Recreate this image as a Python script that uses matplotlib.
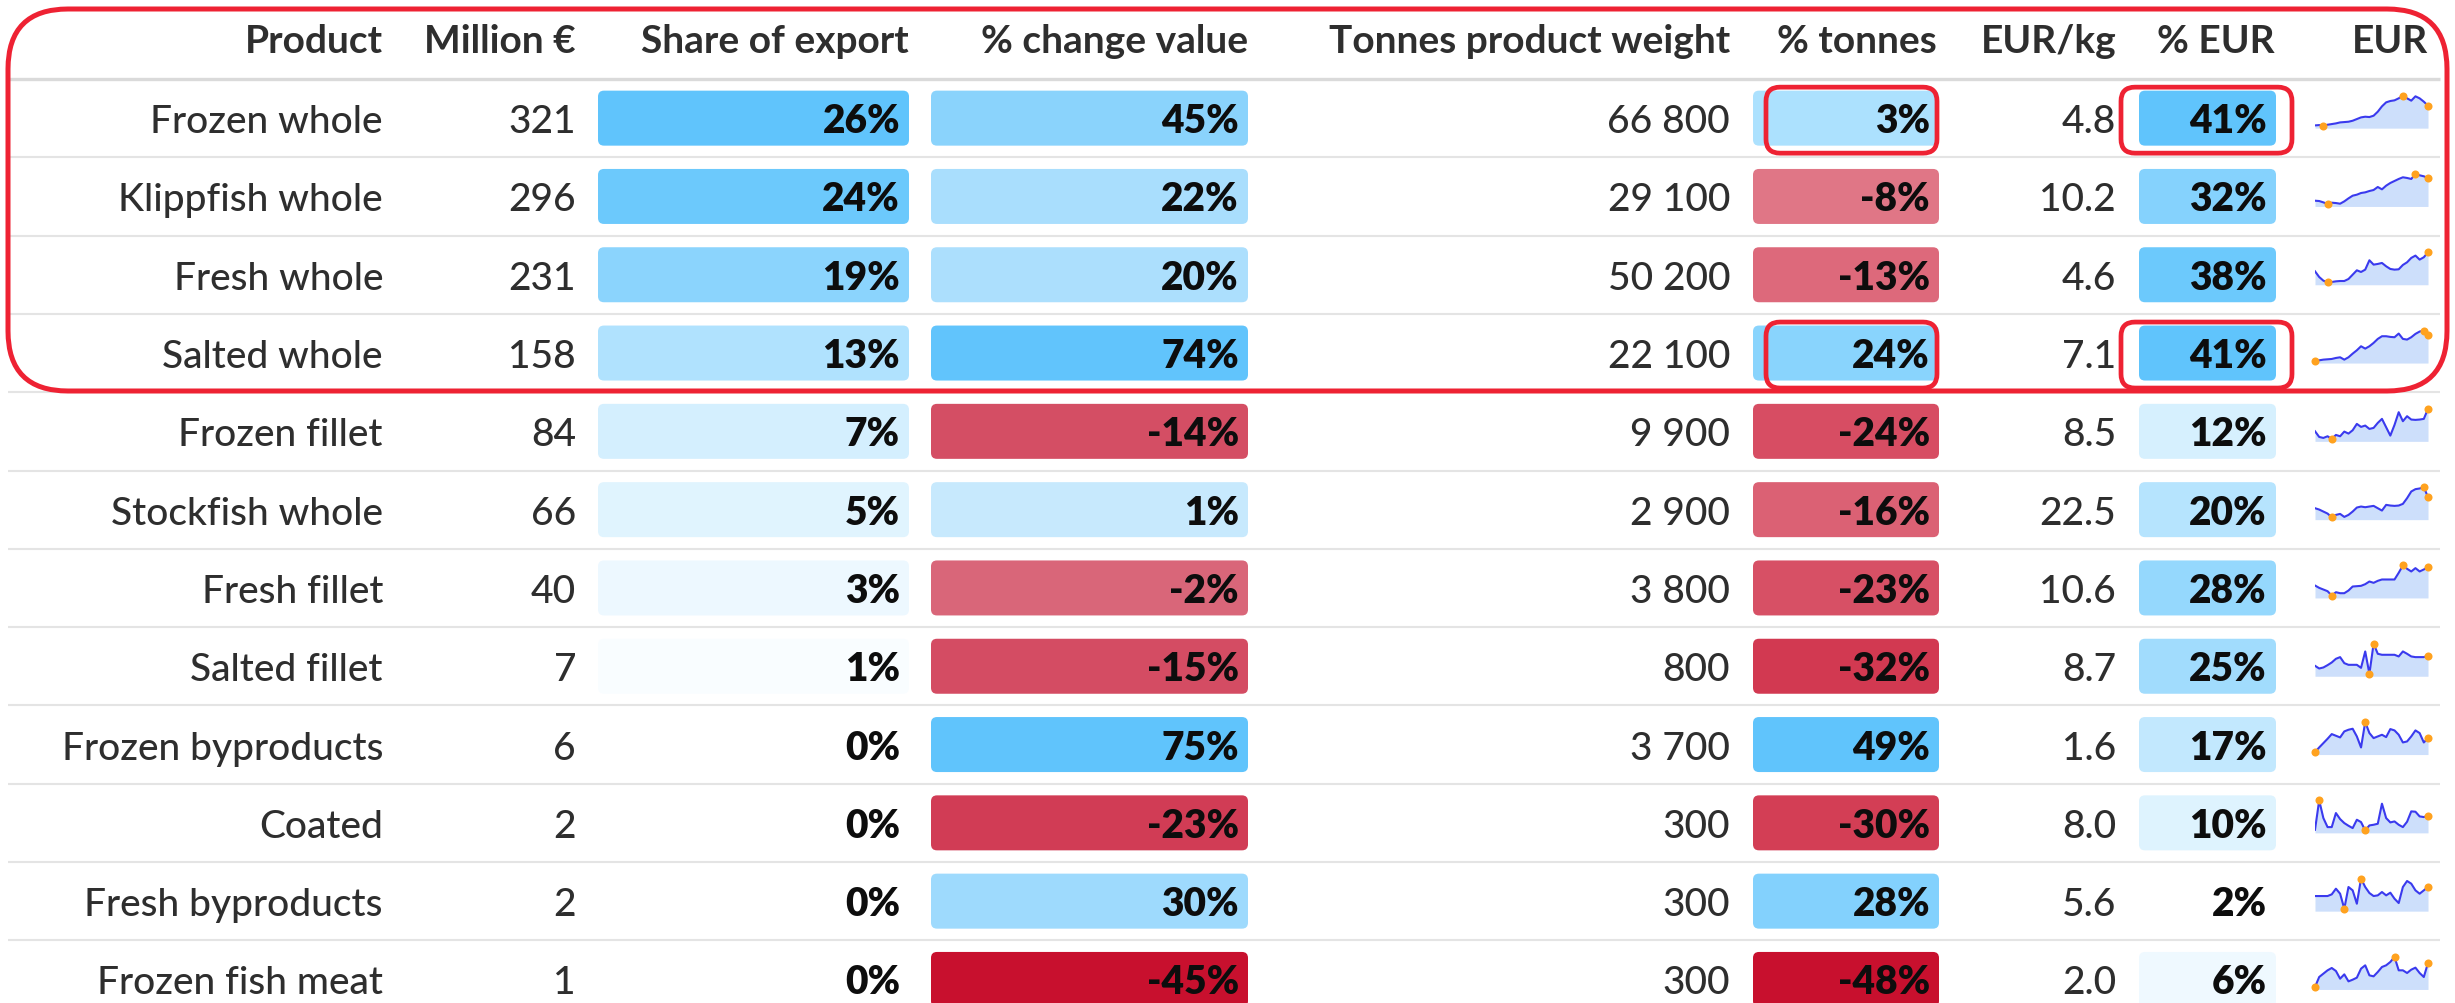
import matplotlib
matplotlib.use("Agg")
import matplotlib.pyplot as plt
from matplotlib.patches import FancyBboxPatch
import numpy as np

# ---------------- data ----------------
headers = ["Product", "Million €", "Share of export", "% change value",
           "Tonnes product weight", "% tonnes", "EUR/kg", "% EUR", "EUR"]
products = ["Frozen whole", "Klippfish whole", "Fresh whole", "Salted whole",
            "Frozen fillet", "Stockfish whole", "Fresh fillet", "Salted fillet",
            "Frozen byproducts", "Coated", "Fresh byproducts", "Frozen fish meat"]
million_eur = [321, 296, 231, 158, 84, 66, 40, 7, 6, 2, 2, 1]
share_export = [26, 24, 19, 13, 7, 5, 3, 1, 0, 0, 0, 0]
change_value = [45, 22, 20, 74, -14, 1, -2, -15, 75, -23, 30, -45]
tonnes = [66800, 29100, 50200, 22100, 9900, 2900, 3800, 800, 3700, 300, 300, 300]
pct_tonnes = [3, -8, -13, 24, -24, -16, -23, -32, 49, -30, 28, -48]
eur_kg = [4.8, 10.2, 4.6, 7.1, 8.5, 22.5, 10.6, 8.7, 1.6, 8.0, 5.6, 2.0]
pct_eur = [41, 32, 38, 41, 12, 20, 28, 25, 17, 10, 2, 6]

# EUR trend (relative index read from the sparklines)
trend_frozen_whole = [1, 2, 0, 3, 5, 7, 10, 11, 12, 15, 20, 25, 27, 26, 30, 42, 58, 70, 74, 76, 82, 90, 82, 75, 88, 82, 72, 60]
trend_klippfish_whole = [10, 9, 5, 0, 4, 3, 1, 8, 17, 25, 28, 33, 35, 39, 42, 51, 44, 55, 63, 69, 75, 80, 78, 75, 90, 86, 83, 78]
trend_fresh_whole = [33, 16, 5, 0, 1, 3, 4, 4, 10, 23, 36, 31, 38, 66, 53, 55, 58, 48, 40, 38, 39, 52, 60, 73, 80, 68, 75, 90]
trend_salted_whole = [0, 1, 3, 4, 5, 8, 10, 3, 10, 21, 31, 43, 36, 43, 53, 65, 73, 73, 71, 70, 81, 65, 63, 70, 80, 87, 90, 76]
trend_frozen_fillet = [23, 6, 3, 8, 0, 12, 8, 22, 16, 26, 45, 36, 40, 30, 33, 48, 60, 35, 10, 42, 80, 53, 68, 58, 57, 58, 60, 90]
trend_stockfish_whole = [27, 23, 17, 11, 0, 7, 10, 1, 7, 17, 29, 32, 30, 32, 34, 27, 20, 37, 35, 34, 35, 40, 57, 77, 84, 86, 90, 60]
trend_fresh_fillet = [30, 23, 18, 13, 0, 10, 7, 7, 15, 27, 28, 29, 34, 42, 38, 44, 48, 48, 48, 48, 68, 90, 80, 72, 82, 72, 78, 85]
trend_salted_fillet = [24, 16, 19, 26, 34, 45, 50, 32, 27, 27, 27, 18, 67, 0, 90, 60, 57, 57, 57, 57, 52, 67, 60, 52, 50, 50, 50, 54]
trend_frozen_byproducts = [0, 14, 27, 40, 54, 49, 44, 62, 67, 70, 47, 14, 90, 57, 42, 47, 52, 45, 69, 65, 52, 29, 32, 47, 65, 57, 29, 42]
trend_coated = [2, 90, 37, 10, 10, 52, 34, 22, 14, 7, 32, 25, 0, 15, 17, 20, 80, 37, 24, 27, 17, 10, 26, 57, 56, 42, 40, 44]
trend_fresh_byproducts = [38, 38, 38, 38, 43, 60, 45, 0, 65, 55, 15, 90, 65, 47, 38, 40, 50, 40, 48, 30, 17, 65, 83, 75, 55, 45, 55, 65]
trend_frozen_fish_meat = [0, 30, 40, 50, 57, 48, 25, 38, 17, 22, 28, 55, 65, 35, 32, 45, 60, 65, 75, 90, 50, 50, 42, 52, 58, 42, 30, 72]
trends = [trend_frozen_whole, trend_klippfish_whole, trend_fresh_whole, trend_salted_whole,
          trend_frozen_fillet, trend_stockfish_whole, trend_fresh_fillet, trend_salted_fillet,
          trend_frozen_byproducts, trend_coated, trend_fresh_byproducts, trend_frozen_fish_meat]

# highlighted cells (row index)
highlight_rows = [0, 3]

# ---------------- styling / layout ----------------
W, H = 2455, 1004
fig = plt.figure(figsize=(W / 100, H / 100), dpi=100)
ax = fig.add_axes([0, 0, 1, 1])
ax.set_xlim(0, W)
ax.set_ylim(H, 0)
ax.axis("off")

FONT = ["Lato", "DejaVu Sans"]
FS = 28
TXT = "#2e2e2e"
HEAD_LINE = 80
ROW_H = 78.3
BAR_H = 55
BLUE = "#60c4fc"
RED = "#c8102e"


def hex2rgb(h):
    h = h.lstrip("#")
    return np.array([int(h[i:i + 2], 16) for i in (0, 2, 4)]) / 255.0


def blend(c0, c1, t):
    t = min(max(t, 0.0), 1.0)
    return tuple(hex2rgb(c0) * (1 - t) + hex2rgb(c1) * t)


def color_seq(v, lo, hi):
    return blend("#ffffff", BLUE, (v - lo) / (hi - lo))


def color_div(v, vmin, vmax, pos0, neg0):
    if v >= 0:
        return blend(pos0, BLUE, v / vmax)
    return blend(neg0, RED, v / vmin)


def row_center(k):
    return HEAD_LINE + ROW_H * (k + 0.5)


# header
head_right = [383, 576, 909, 1248, 1730, 1937, 2117, 2275, 2428]
for h, xr in zip(headers, head_right):
    ax.text(xr, 53, h, ha="right", va="baseline", fontsize=FS, fontweight="bold",
            color=TXT, family=FONT)

ax.plot([8, 2440], [HEAD_LINE, HEAD_LINE], color="#dadada", lw=2.4, solid_capstyle="butt")
for k in range(1, len(products)):
    y = HEAD_LINE + ROW_H * k
    ax.plot([8, 2440], [y, y], color="#e4e4e4", lw=1.5, solid_capstyle="butt")

bar_cols = [
    (598, 909, share_export, lambda v: color_seq(v, min(share_export), max(share_export))),
    (931, 1248, change_value, lambda v: color_div(v, min(change_value), max(change_value), "#c8e9fd", "#da6a7d")),
    (1753, 1939, pct_tonnes, lambda v: color_div(v, min(pct_tonnes), max(pct_tonnes), "#b1e3fe", "#e58a97")),
    (2139, 2276, pct_eur, lambda v: color_seq(v, min(pct_eur), max(pct_eur))),
]

for k, name in enumerate(products):
    c = row_center(k)
    base = c + 14
    ax.text(383, base, name, ha="right", va="baseline", fontsize=FS, fontweight="medium",
            color=TXT, family=FONT)
    ax.text(576, base, f"{million_eur[k]}", ha="right", va="baseline", fontsize=FS,
            fontweight="medium", color=TXT, family=FONT)
    ax.text(1730, base, f"{tonnes[k]:,}".replace(",", " "), ha="right", va="baseline",
            fontsize=FS, fontweight="medium", color=TXT, family=FONT)
    ax.text(2116, base, f"{eur_kg[k]:.1f}", ha="right", va="baseline", fontsize=FS,
            fontweight="medium", color=TXT, family=FONT)
    for x0, x1, vals, cfun in bar_cols:
        v = vals[k]
        p = FancyBboxPatch((x0, c - BAR_H / 2), x1 - x0, BAR_H,
                           boxstyle="round,pad=0,rounding_size=6",
                           facecolor=cfun(v), edgecolor="none", zorder=1)
        ax.add_patch(p)
        ax.text(x1 - 9, base, f"{v}%", ha="right", va="baseline", fontsize=FS,
                fontweight="heavy", color="#0d0d0d", family=FONT, zorder=3)

    # sparkline
    vals = np.array(trends[k], dtype=float)
    vmin, vmax = vals.min(), vals.max()
    r = vmax - vmin
    sx0, sx1 = 2315, 2428
    top, bot = c - 24, c + 10
    sax = fig.add_axes([sx0 / W, 1 - bot / H, (sx1 - sx0) / W, (bot - top) / H])
    lo = vmin - r * 0.08
    hi = vmax + r * 0.05
    sax.set_ylim(lo, hi)
    xs = np.arange(len(vals))
    sax.set_xlim(0, len(vals) - 1)
    sax.fill_between(xs, vals, lo, color="#cddffb", lw=0)
    sax.plot(xs, vals, color="#3a3aee", lw=1.5)
    idx = sorted({int(np.argmin(vals)), int(np.argmax(vals)), len(vals) - 1})
    sax.plot(xs[idx], vals[idx], "o", color="#ffa21f", ms=5.8, mec="none", clip_on=False, zorder=5)
    sax.axis("off")

# red annotation boxes
RC = "#ee2233"
big = FancyBboxPatch((8, 10), 2439, 382, boxstyle="round,pad=0,rounding_size=60",
                     facecolor="none", edgecolor=RC, lw=3.6, zorder=6)
ax.add_patch(big)
for k in highlight_rows:
    c = row_center(k) + 2
    for x0, x1 in [(1766, 1937), (2121, 2292)]:
        p = FancyBboxPatch((x0, c - 33), x1 - x0, 66, boxstyle="round,pad=0,rounding_size=14",
                           facecolor="none", edgecolor=RC, lw=3.4, zorder=6)
        ax.add_patch(p)

fig.savefig("out.png", dpi=100)
